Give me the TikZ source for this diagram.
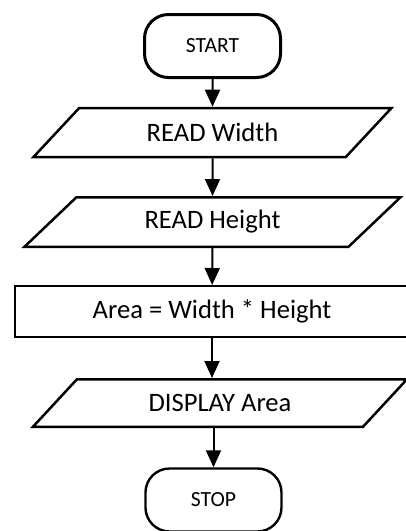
\documentclass[tikz,border=0pt]{standalone}
\usepackage{fontspec}
\setmainfont{Carlito}
\usetikzlibrary{shapes.geometric,arrows.meta}
\tikzstyle{terminal}=[draw, rectangle, rounded corners=12pt, minimum width=68pt, minimum height=31.5pt, font=\fontsize{10.8}{12}\selectfont]
\tikzstyle{io}=[draw, trapezium, trapezium left angle=35, trapezium right angle=145, trapezium stretches body, line width=1.25pt, font=\fontsize{13.3}{15}\selectfont]
\tikzstyle{process}=[draw, rectangle, line width=1pt, font=\fontsize{13.3}{15}\selectfont]
\tikzstyle{flow}=[line width=1pt, -{Triangle[length=8.5pt,width=7.5pt]}]

\begin{document}
\begin{tikzpicture}[x=0.5pt, y=-0.5pt]
	\useasboundingbox (0,0) rectangle (406,531);
	\node[terminal, line width=1.5pt] (start) at (212.5,46) {START};
	\node[io, minimum width=179pt, minimum height=24.5pt] (rw) at (212.5,132.5) {READ Width};
	\node[io, minimum width=188pt, minimum height=24.75pt] (rh) at (212.5,222) {READ Height};
	\node[process, minimum width=197pt, minimum height=25.5pt] (area) at (212,311.5) {Area = Width * Height};
	\node[io, minimum width=187pt, minimum height=23.75pt] (da) at (220,403) {DISPLAY Area};
	\node[terminal, line width=1.2pt] (stop) at (213.5,500) {STOP};
	% arrows
	\draw[flow] (start) -- (rw);
	\draw[flow] (rw) -- (rh);
	\draw[flow] (rh) -- (area);
	\draw[flow] (area) -- (area |- da.north);
	\draw[flow] (da.south -| stop) -- (stop);
\end{tikzpicture}
\end{document}
